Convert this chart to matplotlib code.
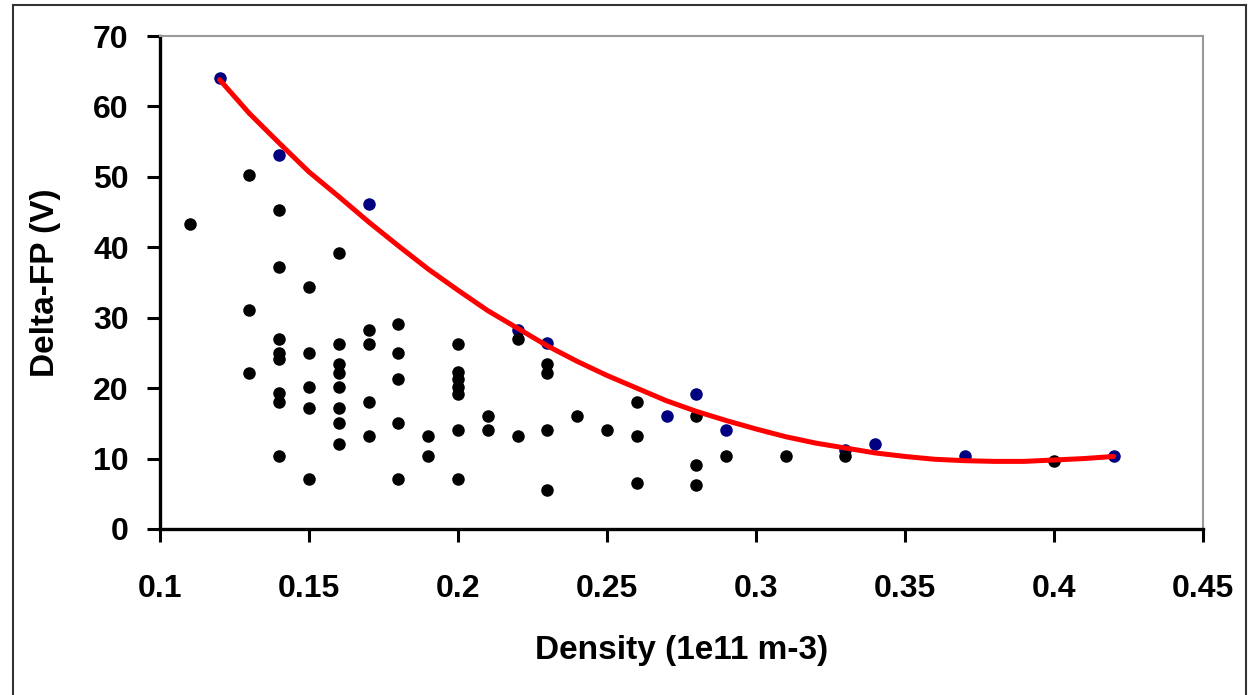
import matplotlib
matplotlib.use('Agg')
import matplotlib.pyplot as plt
from matplotlib.lines import Line2D

plt.rcdefaults()
plt.rcParams['font.family'] = ['Liberation Sans', 'DejaVu Sans']
plt.rcParams['font.weight'] = 'bold'

# DATA
# black scatter points (density, delta-FP)
black_x = [0.11,
           0.13, 0.13, 0.13,
           0.14, 0.14, 0.14, 0.14, 0.14, 0.14, 0.14, 0.14,
           0.15, 0.15, 0.15, 0.15, 0.15,
           0.16, 0.16, 0.16, 0.16, 0.16, 0.16, 0.16, 0.16,
           0.17, 0.17, 0.17, 0.17,
           0.18, 0.18, 0.18, 0.18, 0.18,
           0.19, 0.19,
           0.20, 0.20, 0.20, 0.20, 0.20, 0.20, 0.20,
           0.21, 0.21,
           0.22, 0.22,
           0.23, 0.23, 0.23, 0.23,
           0.24, 0.25,
           0.26, 0.26, 0.26,
           0.28, 0.28, 0.28,
           0.29, 0.31, 0.33, 0.40]
black_y = [43.3,
           50.2, 31.1, 22.1,
           45.3, 37.2, 27.0, 25.0, 24.1, 19.3, 18.1, 10.3,
           34.4, 25.0, 20.1, 17.2, 7.05,
           39.2, 26.2, 23.4, 22.1, 20.1, 17.2, 15.1, 12.0,
           28.2, 26.2, 18.1, 13.2,
           29.1, 25.0, 21.3, 15.1, 7.05,
           13.2, 10.3,
           26.2, 22.3, 21.3, 20.2, 19.2, 14.0, 7.05,
           16.0, 14.0,
           27.0, 13.2,
           23.4, 22.1, 14.0, 5.6,
           16.0, 14.0,
           18.1, 13.2, 6.5,
           16.0, 9.1, 6.2,
           10.3, 10.3, 10.3, 9.6]

# blue (upper envelope) points
blue_x = [0.12, 0.14, 0.17, 0.22, 0.23, 0.27, 0.28, 0.29, 0.33, 0.34, 0.37, 0.42]
blue_y = [64.1, 53.1, 46.1, 28.2, 26.4, 16.0, 19.2, 14.0, 11.2, 12.0, 10.4, 10.3]

# red trend line
fit_x = [0.12, 0.13, 0.14, 0.15, 0.16, 0.17, 0.18, 0.19, 0.20, 0.21, 0.22,
         0.23, 0.24, 0.25, 0.26, 0.27, 0.28, 0.29, 0.30, 0.31, 0.32, 0.33,
         0.34, 0.35, 0.36, 0.37, 0.38, 0.39, 0.40, 0.41, 0.42]
fit_y = [63.8, 59.0, 54.8, 50.7, 47.2, 43.6, 40.2, 36.9, 33.9, 31.0, 28.5,
         26.0, 23.8, 21.8, 20.0, 18.2, 16.7, 15.4, 14.2, 13.1, 12.2, 11.5,
         10.8, 10.3, 9.9, 9.7, 9.6, 9.6, 9.8, 10.0, 10.3]

x_ticks = [0.1, 0.15, 0.2, 0.25, 0.3, 0.35, 0.4, 0.45]
x_tick_labels = ['0.1', '0.15', '0.2', '0.25', '0.3', '0.35', '0.4', '0.45']
y_ticks = [0, 10, 20, 30, 40, 50, 60, 70]

# PRESENTATION
W, H = 1248, 695
fig = plt.figure(figsize=[W / 100, H / 100], dpi=100)
ax = fig.add_axes([160 / W, 1 - 529 / H, 1043 / W, 493 / H])

ax.plot(blue_x, blue_y, 'o', color='#000080', markersize=8, zorder=2)
ax.plot(black_x, black_y, 'o', color='black', markersize=8, zorder=3)
ax.plot(fit_x, fit_y, color='#ff0000', linewidth=3.6, solid_capstyle='round', zorder=4)

ax.set_xlim(0.1, 0.45)
ax.set_ylim(0, 70)
ax.set_xticks(x_ticks)
ax.set_xticklabels(x_tick_labels)
ax.set_yticks(y_ticks)

ax.tick_params(direction='out', length=9.5, width=2.2, labelsize=23, colors='black')
ax.tick_params(axis='x', pad=23)
ax.tick_params(axis='y', pad=13)

for side in ('left', 'bottom'):
    ax.spines[side].set_linewidth(2.4)
    ax.spines[side].set_color('black')
for side in ('top', 'right'):
    ax.spines[side].set_linewidth(1.5)
    ax.spines[side].set_color('#999999')

ax.set_xlabel('Density (1e11 m-3)', fontsize=24, fontweight='bold', labelpad=22)
ax.set_ylabel('Delta-FP (V)', fontsize=24, fontweight='bold', labelpad=23)

# outer chart border
bl, bt, br = 13 / W, 1 - 5 / H, 1246 / W
for xs, ys in (([bl, bl], [0, bt]), ([bl, br], [bt, bt]), ([br, br], [bt, 0])):
    fig.add_artist(Line2D(xs, ys, transform=fig.transFigure, color='#333333', linewidth=1.5))

fig.savefig('out.png', dpi=100)
